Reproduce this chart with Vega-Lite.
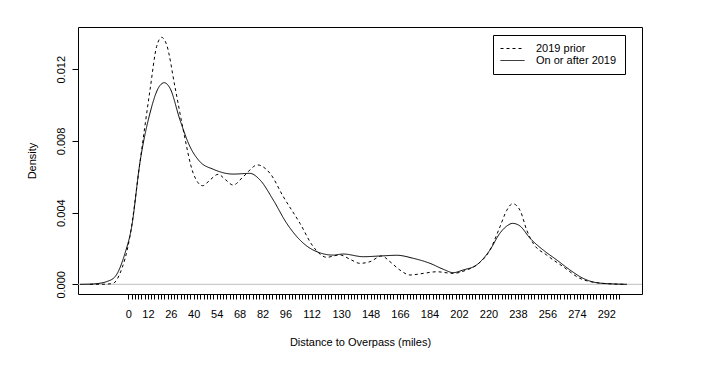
{
  "$schema": "https://vega.github.io/schema/vega-lite/v6.json",
  "autosize": {"type": "none"},
  "width": 564,
  "height": 267,
  "padding": {"left": 78, "top": 27, "right": 59, "bottom": 75},
  "background": "white",
  "config": {
    "font": "Liberation Sans",
    "view": {"stroke": "black", "strokeWidth": 1},
    "axis": {"grid": false, "domain": false, "tickColor": "black", "tickSize": 6, "labelColor": "black", "titleColor": "black", "labelFontSize": 11, "titleFontSize": 11, "titleFontWeight": "normal", "labelFont": "Liberation Sans", "titleFont": "Liberation Sans"}
  },
  "datasets": {
    "curves": [
      {"s": "On or after 2019", "x": -29.5, "y": 0},
      {"s": "On or after 2019", "x": -23.4, "y": 0.00001},
      {"s": "On or after 2019", "x": -17.3, "y": 0.00006},
      {"s": "On or after 2019", "x": -13.2, "y": 0.00015},
      {"s": "On or after 2019", "x": -8.1, "y": 0.00042},
      {"s": "On or after 2019", "x": -2.0, "y": 0.00173},
      {"s": "On or after 2019", "x": 2.1, "y": 0.00321},
      {"s": "On or after 2019", "x": 7.1, "y": 0.00677},
      {"s": "On or after 2019", "x": 13.3, "y": 0.00956},
      {"s": "On or after 2019", "x": 18.3, "y": 0.01094},
      {"s": "On or after 2019", "x": 22.0, "y": 0.01125},
      {"s": "On or after 2019", "x": 25.5, "y": 0.01094},
      {"s": "On or after 2019", "x": 31.6, "y": 0.00917},
      {"s": "On or after 2019", "x": 37.7, "y": 0.00768},
      {"s": "On or after 2019", "x": 43.8, "y": 0.00684},
      {"s": "On or after 2019", "x": 51.9, "y": 0.00642},
      {"s": "On or after 2019", "x": 64.1, "y": 0.00615},
      {"s": "On or after 2019", "x": 74.3, "y": 0.00619},
      {"s": "On or after 2019", "x": 80.5, "y": 0.00582},
      {"s": "On or after 2019", "x": 88.6, "y": 0.0047},
      {"s": "On or after 2019", "x": 96.8, "y": 0.0034},
      {"s": "On or after 2019", "x": 104.9, "y": 0.00247},
      {"s": "On or after 2019", "x": 113.0, "y": 0.00191},
      {"s": "On or after 2019", "x": 125.2, "y": 0.00163},
      {"s": "On or after 2019", "x": 131.3, "y": 0.00169},
      {"s": "On or after 2019", "x": 143.6, "y": 0.00154},
      {"s": "On or after 2019", "x": 153.8, "y": 0.00158},
      {"s": "On or after 2019", "x": 164.0, "y": 0.00162},
      {"s": "On or after 2019", "x": 174.1, "y": 0.00145},
      {"s": "On or after 2019", "x": 184.3, "y": 0.00117},
      {"s": "On or after 2019", "x": 192.4, "y": 0.00084},
      {"s": "On or after 2019", "x": 198.5, "y": 0.00065},
      {"s": "On or after 2019", "x": 204.6, "y": 0.0008},
      {"s": "On or after 2019", "x": 212.8, "y": 0.00108},
      {"s": "On or after 2019", "x": 220.9, "y": 0.00191},
      {"s": "On or after 2019", "x": 227.0, "y": 0.00285},
      {"s": "On or after 2019", "x": 231.2, "y": 0.00325},
      {"s": "On or after 2019", "x": 234.8, "y": 0.0034},
      {"s": "On or after 2019", "x": 239.3, "y": 0.00325},
      {"s": "On or after 2019", "x": 245.4, "y": 0.00257},
      {"s": "On or after 2019", "x": 253.5, "y": 0.00191},
      {"s": "On or after 2019", "x": 261.7, "y": 0.00136},
      {"s": "On or after 2019", "x": 269.8, "y": 0.0008},
      {"s": "On or after 2019", "x": 277.9, "y": 0.00033},
      {"s": "On or after 2019", "x": 286.1, "y": 0.00009},
      {"s": "On or after 2019", "x": 296.3, "y": 0.00002},
      {"s": "On or after 2019", "x": 304.5, "y": 0},
      {"s": "2019 prior", "x": -23.4, "y": 0},
      {"s": "2019 prior", "x": -14.2, "y": 0.000005},
      {"s": "2019 prior", "x": -9.2, "y": 0.00006},
      {"s": "2019 prior", "x": -5.1, "y": 0.0006},
      {"s": "2019 prior", "x": 1.0, "y": 0.00266},
      {"s": "2019 prior", "x": 7.1, "y": 0.00677},
      {"s": "2019 prior", "x": 13.3, "y": 0.01085},
      {"s": "2019 prior", "x": 17.3, "y": 0.01326},
      {"s": "2019 prior", "x": 20.4, "y": 0.01378},
      {"s": "2019 prior", "x": 23.5, "y": 0.01335},
      {"s": "2019 prior", "x": 28.5, "y": 0.01103},
      {"s": "2019 prior", "x": 33.6, "y": 0.00861},
      {"s": "2019 prior", "x": 39.7, "y": 0.00619},
      {"s": "2019 prior", "x": 45.5, "y": 0.0055},
      {"s": "2019 prior", "x": 49.9, "y": 0.00582},
      {"s": "2019 prior", "x": 55.0, "y": 0.00614},
      {"s": "2019 prior", "x": 59.1, "y": 0.00586},
      {"s": "2019 prior", "x": 64.1, "y": 0.00554},
      {"s": "2019 prior", "x": 70.3, "y": 0.00601},
      {"s": "2019 prior", "x": 79.0, "y": 0.00666},
      {"s": "2019 prior", "x": 86.6, "y": 0.00619},
      {"s": "2019 prior", "x": 94.7, "y": 0.00489},
      {"s": "2019 prior", "x": 104.9, "y": 0.0034},
      {"s": "2019 prior", "x": 113.0, "y": 0.0021},
      {"s": "2019 prior", "x": 121.2, "y": 0.00151},
      {"s": "2019 prior", "x": 129.3, "y": 0.00164},
      {"s": "2019 prior", "x": 135.4, "y": 0.0014},
      {"s": "2019 prior", "x": 141.5, "y": 0.00117},
      {"s": "2019 prior", "x": 147.6, "y": 0.00126},
      {"s": "2019 prior", "x": 154.8, "y": 0.00158},
      {"s": "2019 prior", "x": 159.9, "y": 0.00126},
      {"s": "2019 prior", "x": 165.9, "y": 0.0008},
      {"s": "2019 prior", "x": 172.0, "y": 0.00052},
      {"s": "2019 prior", "x": 180.2, "y": 0.00061},
      {"s": "2019 prior", "x": 188.4, "y": 0.0007},
      {"s": "2019 prior", "x": 198.5, "y": 0.00061},
      {"s": "2019 prior", "x": 206.7, "y": 0.0008},
      {"s": "2019 prior", "x": 212.8, "y": 0.00108},
      {"s": "2019 prior", "x": 220.9, "y": 0.00191},
      {"s": "2019 prior", "x": 227.0, "y": 0.0032},
      {"s": "2019 prior", "x": 231.2, "y": 0.00413},
      {"s": "2019 prior", "x": 234.8, "y": 0.0045},
      {"s": "2019 prior", "x": 239.3, "y": 0.00413},
      {"s": "2019 prior", "x": 243.4, "y": 0.00302},
      {"s": "2019 prior", "x": 247.4, "y": 0.00228},
      {"s": "2019 prior", "x": 255.6, "y": 0.00163},
      {"s": "2019 prior", "x": 265.7, "y": 0.00098},
      {"s": "2019 prior", "x": 275.9, "y": 0.00033},
      {"s": "2019 prior", "x": 286.1, "y": 0.00009},
      {"s": "2019 prior", "x": 296.3, "y": 0.00002},
      {"s": "2019 prior", "x": 304.5, "y": 0}
    ]
  },
  "layer": [
    {
      "data": {"values": [{"h": 0}]},
      "mark": {"type": "rule", "color": "#bebebe", "strokeWidth": 1},
      "encoding": {"y": {"field": "h", "type": "quantitative", "scale": {"domain": [-0.000541, 0.014357]}}}
    },
    {
      "data": {"name": "curves"},
      "mark": {"type": "line", "color": "black", "strokeWidth": 1, "interpolate": "monotone"},
      "encoding": {
        "x": {
          "field": "x", "type": "quantitative",
          "scale": {"domain": [-30.7, 313.8], "nice": false, "zero": false},
          "axis": {
            "title": "Distance to Overpass (miles)",
            "values": [0,2,4,6,8,10,12,14,16,18,20,22,24,26,28,30,32,34,36,38,40,42,44,46,48,50,52,54,56,58,60,62,64,66,68,70,72,74,76,78,80,82,84,86,88,90,92,94,96,98,100,102,104,106,108,110,112,114,116,118,120,122,124,126,128,130,132,134,136,138,140,142,144,146,148,150,152,154,156,158,160,162,164,166,168,170,172,174,176,178,180,182,184,186,188,190,192,194,196,198,200,202,204,206,208,210,212,214,216,218,220,222,224,226,228,230,232,234,236,238,240,242,244,246,248,250,252,254,256,258,260,262,264,266,268,270,272,274,276,278,280,282,284,286,288,290,292,294,296,298,300],
            "labelExpr": "indexof([0,12,26,40,54,68,82,96,112,130,148,166,184,202,220,238,256,274,292], datum.value) >= 0 ? datum.label : ''",
            "labelOverlap": false,
            "labelFlush": false,
            "labelPadding": 9,
            "tickSize": 5,
            "titleY": 48,
            "titleBaseline": "middle"
          }
        },
        "y": {
          "field": "y", "type": "quantitative",
          "scale": {"domain": [-0.000541, 0.014357], "nice": false, "zero": false},
          "axis": {
            "title": "Density",
            "values": [0, 0.002, 0.004, 0.006, 0.008, 0.01, 0.012, 0.014],
            "format": ".3f",
            "labelExpr": "indexof([0, 4, 8, 12], round(datum.value * 1000)) >= 0 ? datum.label : ''",
            "labelAngle": 270,
            "labelAlign": "center",
            "labelBaseline": "bottom",
            "labelPadding": 6,
            "labelOverlap": false,
            "labelFlush": false,
            "tickSize": 6,
            "titleX": -46,
            "titleBaseline": "middle"
          }
        },
        "strokeDash": {
          "field": "s", "type": "nominal",
          "scale": {"domain": ["2019 prior", "On or after 2019"], "range": [[3, 3], [1, 0]]},
          "legend": {
            "title": null,
            "orient": "none",
            "legendX": 415,
            "legendY": 8,
            "strokeColor": "black",
            "padding": 8,
            "symbolType": "M-1.5,0H4.5",
            "symbolSize": 64,
            "symbolStrokeColor": "black",
            "symbolStrokeWidth": 1,
            "labelFontSize": 11,
            "labelColor": "black",
            "labelOffset": 24,
            "rowPadding": 0
          }
        }
      }
    }
  ]
}
